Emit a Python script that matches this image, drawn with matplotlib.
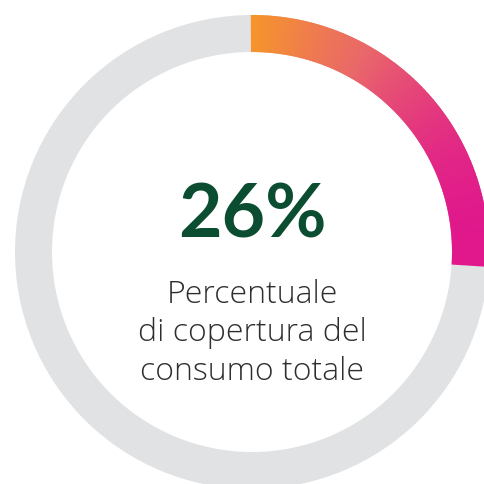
import numpy as np
import matplotlib.pyplot as plt
from matplotlib.patches import Wedge
from matplotlib.colors import LinearSegmentedColormap

value = 26  # percent
big_label = "26%"
caption_lines = ["Percentuale", "di copertura del", "consumo totale"]

W, H = 485, 484
fig = plt.figure(figsize=(W / 100, H / 100), dpi=100)
ax = fig.add_axes([0, 0, 1, 1])
ax.set_xlim(0, W)
ax.set_ylim(0, H)
ax.set_aspect('equal')
ax.axis('off')

cx, cy = 252, H - 252
r_out, width = 237, 37

# grey track
ax.add_patch(Wedge((cx, cy), r_out, 0, 360, width=width, color='#E1E2E4', lw=0))

# gradient arc, clockwise from top; colour follows horizontal position
cmap = LinearSegmentedColormap.from_list('arc', ['#F6952B', '#E9676A', '#E0188C'])
n = 200
span = value / 100 * 360
edges = np.linspace(90, 90 - span, n + 1)
r_mid = r_out - width / 2
for i in range(n):
    mid = np.radians((edges[i] + edges[i + 1]) / 2)
    t = np.cos(mid) * r_mid / r_mid
    ax.add_patch(Wedge((cx, cy), r_out, edges[i + 1], edges[i] + 0.3, width=width,
                       color=cmap(np.clip(t, 0, 1)), lw=0))

ax.text(cx, H - 238, big_label, ha='center', va='baseline', fontsize=54,
        fontweight='bold', color='#0B4D31', family='Lato')

baselines = [303, 341, 380]
for line, yb in zip(caption_lines, baselines):
    ax.text(cx, H - yb, line, ha='center', va='baseline', fontsize=23,
            fontweight='light', color='#2E2E2E', family='Open Sans')

fig.savefig('out.png', dpi=100)
